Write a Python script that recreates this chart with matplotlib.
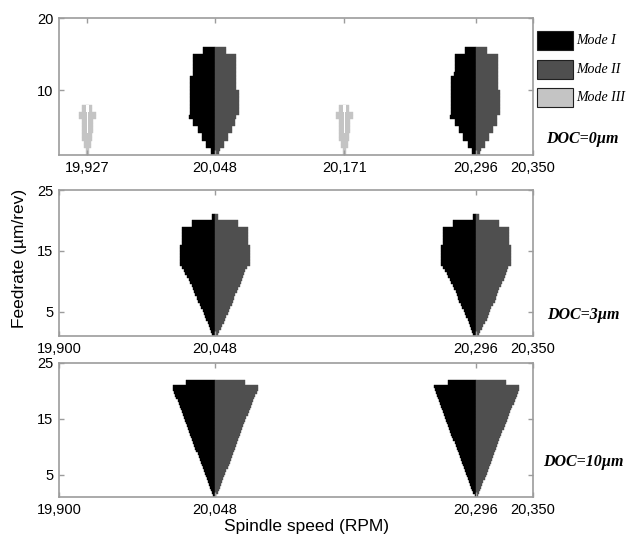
import numpy as np
import matplotlib
matplotlib.use("Agg")
import matplotlib.pyplot as plt
from matplotlib.patches import Rectangle

plt.rcParams['font.family'] = ['Liberation Sans', 'DejaVu Sans']

# chatter lobe centres (rpm) and mode colours
lobe_centres = [20048, 20296]
mode3_centres = [19927, 20171]
mode_colours = ['#000000', '#4f4f4f', '#c4c4c4']
mode_labels = ['Mode I', 'Mode II', 'Mode III']
doc_labels = ['DOC=0µm', 'DOC=3µm', 'DOC=10µm']

# DOC = 0 um : half widths (rpm) of each feed row, Mode I left / Mode II right
feed0 = np.arange(1.0, 16.0, 0.5)
left0 = [3.5, 4, 8, 8, 12.5, 12.5, 16.5, 16.5, 20.5, 20.5, 25, 24, 23.5, 23.5, 23.5,
         23.5, 23.5, 23.5, 23.5, 23.5, 23.5, 23.5, 21, 20.5, 20.5, 20.5, 20.5, 20.5, 11, 11]
right0 = [4, 4.5, 8.5, 8.5, 12.5, 12.5, 16.5, 16.5, 19.5, 19.5, 20, 22.5, 22.5, 22.5, 22.5,
          22.5, 22.5, 22.5, 20.5, 20.5, 20.5, 20.5, 20.5, 20.5, 20.5, 20.5, 20.5, 20.5, 10.5, 10.5]

# DOC = 0 um : Mode III side lobes
feed_m3 = np.arange(1.0, 8.0, 0.5)
left_m3 = [1.5, 1.5, 3.5, 3.5, 5, 5, 5.5, 5.5, 5.5, 5.5, 8, 8, 5, 5]
right_m3 = [1.5, 1.5, 3, 3, 4.5, 4.5, 5, 5, 5, 5, 8, 8, 4.5, 4.5]
split_m3 = [0, 0, 0, 0, 0, 0, 1.6, 1.6, 1.6, 1.6, 1.6, 1.6, 2.2, 2.2]

# DOC = 3 um
feed3 = np.arange(1.0, 21.0, 0.5)
left3 = [2.5, 3.5, 4.5, 6, 7, 8, 9.5, 10.5, 11.5, 13, 14.5, 16, 17, 18.5, 19.5, 21, 22, 23.5,
         25, 26.5, 28, 29.5, 31, 33, 33.5, 33.5, 33.5, 33.5, 33.5, 33, 31, 31, 31, 31, 31, 31,
         21.5, 21.5, 2.5, 2.5]
right3 = [2.5, 4, 5.5, 7, 8.5, 10, 11, 12.5, 13.5, 14.5, 16, 17.5, 18.5, 19.5, 21, 22, 23.5, 25,
          26, 27, 28, 29, 30.5, 33.5, 33.5, 33.5, 33.5, 33.5, 33.5, 33.5, 31, 31, 31, 31, 31, 31,
          21.5, 21.5, 2.5, 2.5]

# DOC = 10 um
feed10 = np.arange(1.0, 22.0, 0.5)
left10 = [1.5, 2.5, 3.5, 4.5, 5.5, 6.5, 7.5, 8.5, 9.5, 10.5, 11.5, 12.5, 13.5, 14.5, 15.5,
          16.5, 17.5, 18.5, 19.5, 20.5, 21.5, 22.5, 23.5, 24.5, 25.5, 26.5, 27.5, 28.5, 29.5,
          30.5, 31.5, 32.5, 33.5, 34.5, 35.5, 36.5, 37.5, 38.5, 39.5, 40, 27, 27]
right10 = [1.5, 2.5, 3.5, 4.5, 5.5, 6.5, 8, 9, 10, 11, 12, 13, 14, 15, 16, 17, 18, 19, 20,
           21, 22, 23, 24, 25, 26, 27, 28, 29, 30, 31, 32.5, 33.5, 34.5, 35.5, 36.5, 37.5,
           38.5, 39.5, 40.5, 41, 28.5, 28.5]

ticks_top = [19927, 20048, 20171, 20296, 20350]
ticks_low = [19900, 20048, 20296, 20350]

spine_col = '#9c9c9c'
W, H = 626, 538


def px_axes(x0, y0, x1, y1):
    return fig.add_axes([x0 / W, 1 - y1 / H, (x1 - x0) / W, (y1 - y0) / H])


def half(ax, centre, feed, widths, colour, side):
    widths = np.asarray(widths)
    left = centre - widths if side < 0 else centre
    ax.barh(feed + 0.25, widths, left=left, height=0.5, color=colour,
            edgecolor=colour, linewidth=0.3)


def style(ax, ylim, yticks, xticks):
    ax.set_xlim(19900, 20350)
    ax.set_ylim(*ylim)
    ax.set_yticks(yticks)
    ax.set_xticks(xticks)
    ax.set_xticklabels([f'{t:,}' for t in xticks])
    for s in ax.spines.values():
        s.set_color(spine_col)
        s.set_linewidth(1.2)
    ax.tick_params(direction='in', length=3.5, width=1, color=spine_col,
                   top=True, right=True, labelsize=10.5, pad=4)


fig = plt.figure(figsize=(W / 100, H / 100), dpi=100)

ax0 = px_axes(59, 18, 533, 155)
ax3 = px_axes(59, 190, 533, 336)
ax10 = px_axes(59, 363, 533, 497)

for c in lobe_centres:
    half(ax0, c, feed0, left0, mode_colours[0], -1)
    half(ax0, c, feed0, right0, mode_colours[1], 1)
    half(ax3, c, feed3, left3, mode_colours[0], -1)
    half(ax3, c, feed3, right3, mode_colours[1], 1)
    half(ax10, c, feed10, left10, mode_colours[0], -1)
    half(ax10, c, feed10, right10, mode_colours[1], 1)

for c in mode3_centres:
    half(ax0, c, feed_m3, left_m3, mode_colours[2], -1)
    half(ax0, c, feed_m3, right_m3, mode_colours[2], 1)
    gap = np.asarray(split_m3)
    ax0.barh(feed_m3 + 0.25, gap, left=c - gap / 2, height=0.5, color='white', linewidth=0)

style(ax0, (1, 20), [10, 20], ticks_top)
style(ax3, (1, 25), [5, 15, 25], ticks_low)
style(ax10, (1, 25), [5, 15, 25], ticks_low)

# legend boxes
for i, (col, lab) in enumerate(zip(mode_colours, mode_labels)):
    top = 31 + i * 28.7
    fig.add_artist(Rectangle((537 / W, 1 - (top + 19) / H), 36 / W, 19 / H,
                             facecolor=col, edgecolor='#202020', linewidth=0.8,
                             transform=fig.transFigure))
    fig.text(576 / W, 1 - (top + 9.5) / H, lab, family='Liberation Serif',
             style='italic', fontsize=10, va='center', ha='left')

for lab, (x, y) in zip(doc_labels, [(546, 139), (547, 315), (543, 462)]):
    fig.text(x / W, 1 - y / H, lab, family='Liberation Serif', style='italic',
             weight='bold', fontsize=11.5, va='center', ha='left')

fig.text(20 / W, 1 - 258 / H, 'Feedrate (µm/rev)', rotation=90, fontsize=12.5,
         va='center', ha='center')
fig.text(307 / W, 1 - 527 / H, 'Spindle speed (RPM)', fontsize=12.5,
         va='center', ha='center')

fig.savefig('out.png', dpi=100)
